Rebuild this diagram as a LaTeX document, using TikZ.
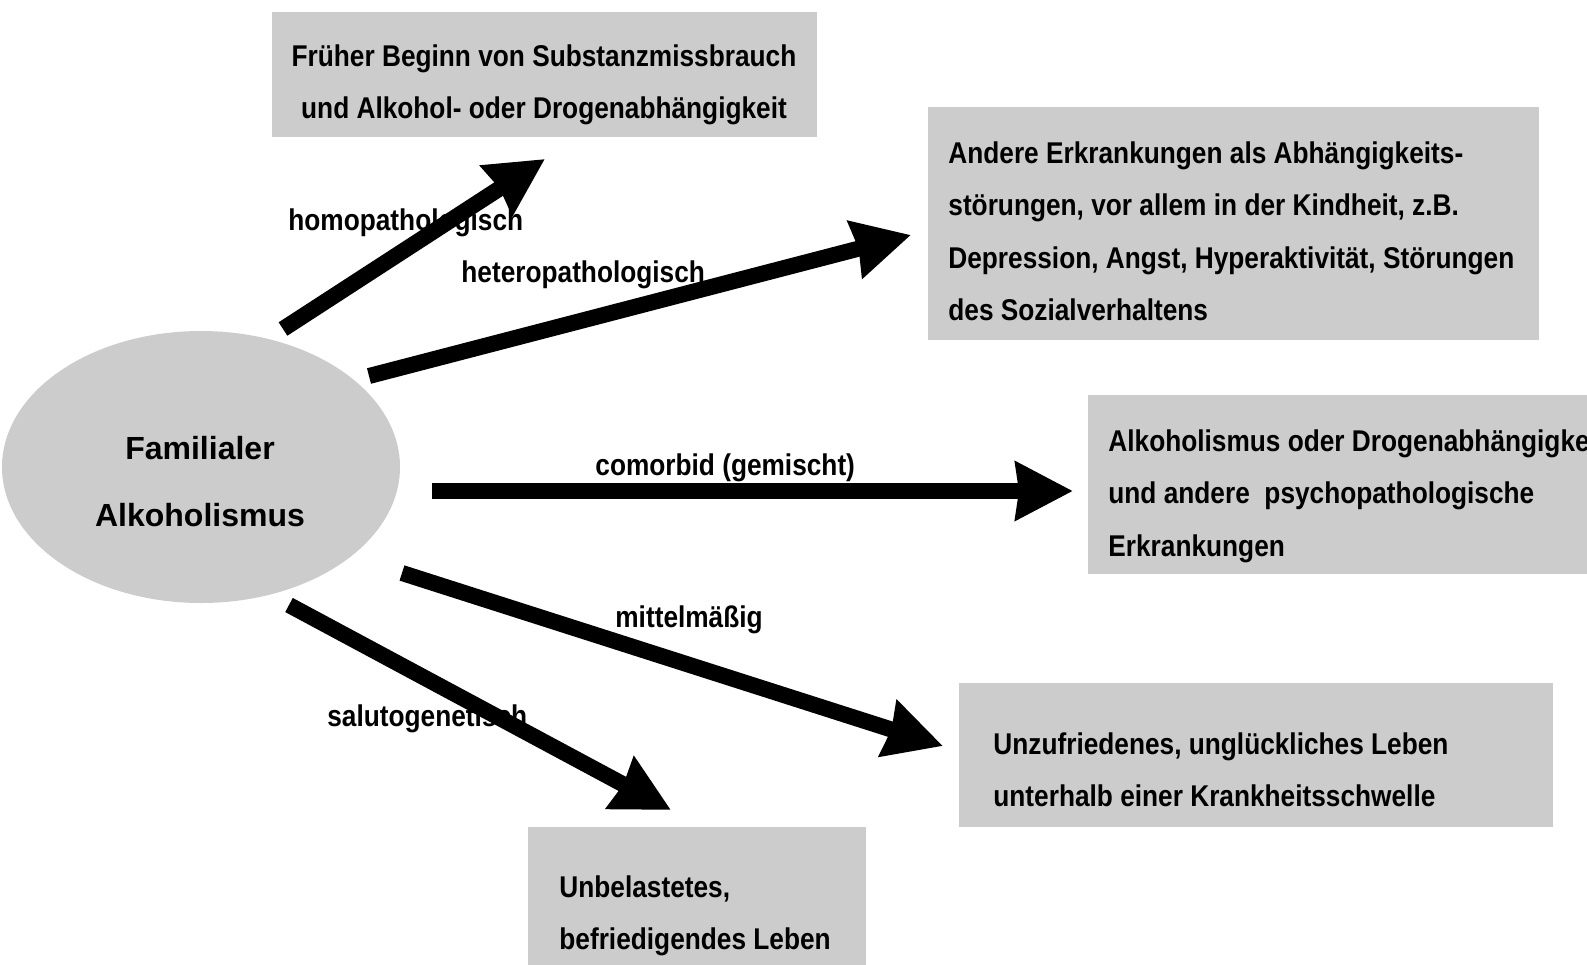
\documentclass[tikz,border=0pt]{standalone}
\usepackage{fontspec}
\setmainfont{Liberation Sans}
\newfontfamily\nbfont[FakeStretch=0.875]{Liberation Sans}
\usetikzlibrary{arrows.meta,shapes.geometric}
\definecolor{boxgray}{HTML}{CCCCCC}
\tikzset{
  boxfill/.style={fill=boxgray, draw=none, inner sep=0pt, anchor=north west},
  boxtext/.style={inner sep=0pt, align=left, font=\nbfont\bfseries\fontsize{15pt}{26.25pt}\selectfont},
  lbl/.style={inner sep=0pt, anchor=base west, font=\nbfont\bfseries\fontsize{15pt}{18pt}\selectfont},
  bigarrow/.style={line width=8pt, -{Stealth[length=28.5pt,width=28.5pt,inset=1.5pt]}},
}
\newcommand{\firstline}{\rule{0pt}{12pt}}
\begin{document}
\begin{tikzpicture}[x=0.5pt,y=-0.5pt]
\useasboundingbox (0,0) rectangle (1587,965);
\clip (0,0) rectangle (1587,965);

% boxes
\node[boxfill, minimum width=272.5pt, minimum height=62.5pt] (b1) at (272,12) {};
\node[boxfill, minimum width=305.5pt, minimum height=116.5pt] (b2) at (928,107) {};
\node[boxfill, minimum width=260pt, minimum height=89.5pt] (b3) at (1088,395) {};
\node[boxfill, minimum width=297pt, minimum height=72pt] (b4) at (959,683) {};
\node[boxfill, minimum width=169pt, minimum height=70pt] (b5) at (528,827) {};

% box texts
\node[boxtext, align=center, anchor=north] (t1) at (544,42)
  {\firstline Früher Beginn von Substanzmissbrauch\\und Alkohol- oder Drogenabhängigkeit};
\node[boxtext, anchor=north west] (t2) at (948,139)
  {\firstline Andere Erkrankungen als Abhängigkeits-\\störungen, vor allem in der Kindheit, z.B.\\Depression, Angst, Hyperaktivität, Störungen\\des Sozialverhaltens};
\node[boxtext, anchor=north west] (t3) at (1108,427)
  {\firstline Alkoholismus oder Drogenabhängigkeit\\und andere\ \ psychopathologische\\Erkrankungen};
\node[boxtext, anchor=north west] (t4) at (993,730)
  {\firstline Unzufriedenes, unglückliches Leben\\unterhalb einer Krankheitsschwelle};
\node[boxtext, anchor=north west] (t5) at (559,873)
  {\firstline Unbelastetes,\\befriedigendes Leben};

% ellipse
\node[ellipse, fill=boxgray, draw=none, inner sep=0pt, minimum width=199pt, minimum height=136pt] (fam) at (201,467) {};
\node[inner sep=0pt, anchor=north, align=center, font=\bfseries\fontsize{16pt}{33.5pt}\selectfont] (famtxt) at (200,431)
  {\rule{0pt}{14pt}Familialer\\Alkoholismus};

% labels
\node[lbl] (l1) at (288,230) {homopathologisch};
\node[lbl] (l2) at (461,282) {heteropathologisch};
\node[lbl] (l3) at (595,475) {comorbid (gemischt)};
\node[lbl] (l4) at (615,627) {mittelmäßig};
\node[lbl] (l5) at (327,726) {salutogenetisch};

% arrow end points
\coordinate (a1s) at (283,329); \coordinate (a1e) at (545,159);
\coordinate (a2s) at (369,376); \coordinate (a2e) at (911,235);
\coordinate (a3s) at (432,491); \coordinate (a3e) at (1073,491);
\coordinate (a4s) at (402,573); \coordinate (a4e) at (943,746);
\coordinate (a5s) at (289,605); \coordinate (a5e) at (671,810);

\draw[bigarrow] (a1s) -- (a1e);
\draw[bigarrow] (a2s) -- (a2e);
\draw[bigarrow] (a3s) -- (a3e);
\draw[bigarrow] (a4s) -- (a4e);
\draw[bigarrow] (a5s) -- (a5e);
\end{tikzpicture}
\end{document}
